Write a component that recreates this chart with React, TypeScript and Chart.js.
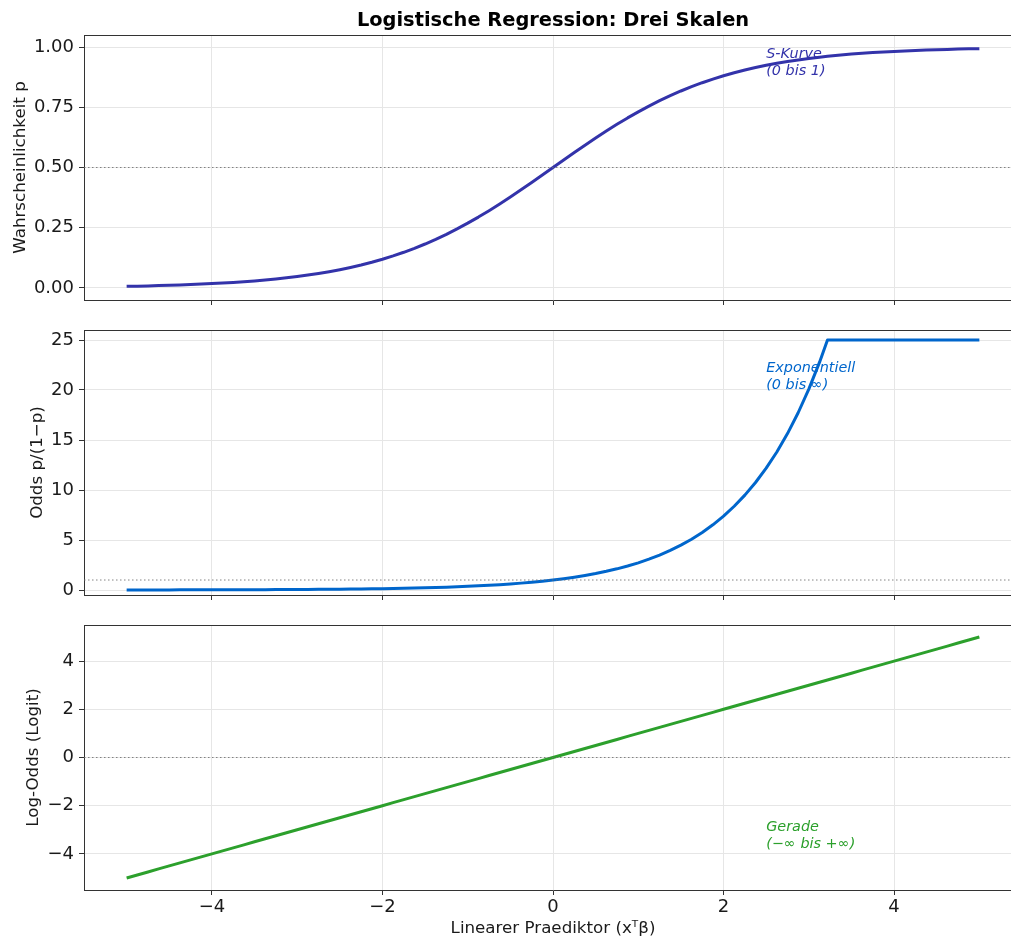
import React, { useEffect, useRef } from "react";
import { Chart, registerables } from "chart.js";

Chart.register(...registerables);

// ---------- data ----------
const xValues = [
  -5, -4.875, -4.75, -4.625, -4.5, -4.375, -4.25, -4.125, -4, -3.875, -3.75, -3.625, -3.5, -3.375,
  -3.25, -3.125, -3, -2.875, -2.75, -2.625, -2.5, -2.375, -2.25, -2.125, -2, -1.875, -1.75, -1.625,
  -1.5, -1.375, -1.25, -1.125, -1, -0.875, -0.75, -0.625, -0.5, -0.375, -0.25, -0.125, 0, 0.125,
  0.25, 0.375, 0.5, 0.625, 0.75, 0.875, 1, 1.125, 1.25, 1.375, 1.5, 1.625, 1.75, 1.875, 2, 2.125,
  2.25, 2.375, 2.5, 2.625, 2.75, 2.875, 3, 3.125, 3.219, 3.25, 3.375, 3.5, 3.625, 3.75, 3.875, 4,
  4.125, 4.25, 4.375, 4.5, 4.625, 4.75, 4.875, 5,
];
const probability = [
  0.00669, 0.00758, 0.00858, 0.00971, 0.01099, 0.01243, 0.01406, 0.01591, 0.01799, 0.02033, 0.02298,
  0.02596, 0.02931, 0.03309, 0.03733, 0.04209, 0.04743, 0.0534, 0.06009, 0.06755, 0.07586, 0.0851,
  0.09535, 0.10669, 0.1192, 0.13296, 0.14805, 0.16452, 0.18243, 0.20181, 0.2227, 0.24508, 0.26894,
  0.29421, 0.32082, 0.34865, 0.37754, 0.40734, 0.43782, 0.46879, 0.5, 0.53121, 0.56218, 0.59266,
  0.62246, 0.65135, 0.67918, 0.70579, 0.73106, 0.75492, 0.7773, 0.79819, 0.81757, 0.83548, 0.85195,
  0.86704, 0.8808, 0.89331, 0.90465, 0.9149, 0.92414, 0.93245, 0.93991, 0.9466, 0.95257, 0.95791,
  0.96154, 0.96267, 0.96691, 0.97069, 0.97404, 0.97702, 0.97967, 0.98201, 0.98409, 0.98594, 0.98757,
  0.98901, 0.99029, 0.99142, 0.99242, 0.99331,
];
const odds = [
  0.00674, 0.00764, 0.00865, 0.0098, 0.01111, 0.01259, 0.01426, 0.01616, 0.01832, 0.02075, 0.02352,
  0.02665, 0.0302, 0.03422, 0.03877, 0.04394, 0.04979, 0.05642, 0.06393, 0.07244, 0.08208, 0.09301,
  0.1054, 0.11943, 0.13534, 0.15336, 0.17377, 0.19691, 0.22313, 0.25284, 0.28651, 0.32465, 0.36788,
  0.41686, 0.47237, 0.53526, 0.60653, 0.68729, 0.7788, 0.8825, 1, 1.13315, 1.28403, 1.45499, 1.64872,
  1.86825, 2.117, 2.39888, 2.71828, 3.08022, 3.49034, 3.95508, 4.48169, 5.07842, 5.7546, 6.52082,
  7.38906, 8.3729, 9.48774, 10.75101, 12.18249, 13.80457, 15.64263, 17.72542, 20.08554, 22.7599, 25,
  25, 25, 25, 25, 25, 25, 25, 25, 25, 25, 25, 25, 25, 25, 25,
];
const logOdds = [
  -5, -4.875, -4.75, -4.625, -4.5, -4.375, -4.25, -4.125, -4, -3.875, -3.75, -3.625, -3.5, -3.375,
  -3.25, -3.125, -3, -2.875, -2.75, -2.625, -2.5, -2.375, -2.25, -2.125, -2, -1.875, -1.75, -1.625,
  -1.5, -1.375, -1.25, -1.125, -1, -0.875, -0.75, -0.625, -0.5, -0.375, -0.25, -0.125, 0, 0.125,
  0.25, 0.375, 0.5, 0.625, 0.75, 0.875, 1, 1.125, 1.25, 1.375, 1.5, 1.625, 1.75, 1.875, 2, 2.125,
  2.25, 2.375, 2.5, 2.625, 2.75, 2.875, 3, 3.125, 3.219, 3.25, 3.375, 3.5, 3.625, 3.75, 3.875, 4,
  4.125, 4.25, 4.375, 4.5, 4.625, 4.75, 4.875, 5,
];

const xTicks = [-4, -2, 0, 2, 4];
const probTicks = [0, 0.25, 0.5, 0.75, 1];
const oddsTicks = [0, 5, 10, 15, 20, 25];
const logitTicks = [-4, -2, 0, 2, 4];

const xLimits = [-5.5, 5.5];
const probLimits = [-0.05, 1.05];
const oddsLimits = [-0.5, 26];
const logitLimits = [-5.5, 5.5];
const referenceLevels = [0.5, 1, 0];

const titleText = "Logistische Regression: Drei Skalen";
const xLabel = "Linearer Praediktor (xᵀβ)";
const yLabels = ["Wahrscheinlichkeit p", "Odds p/(1−p)", "Log-Odds (Logit)"];
const annotationLines = [
  ["S-Kurve", "(0 bis 1)"],
  ["Exponentiell", "(0 bis ∞)"],
  ["Gerade", "(−∞ bis +∞)"],
];
const annotationX = [2.5, 2.5, 2.5];
const annotationY = [0.934, 21.3, -3.26];

const lineColors = ["#3333AA", "#0066CC", "#2CA02C"];

// ---------- styling ----------
const FONT = "'DejaVu Sans', 'Noto Sans', sans-serif";
const SPINE = "#333333";
const GRID = "#e6e6e6";
const TEXT = "#1a1a1a";

const fmtMinus = (v: number, digits?: number) => {
  const s = digits !== undefined ? Math.abs(v).toFixed(digits) : String(Math.abs(v));
  return v < 0 ? "−" + s : s;
};

type Panel = {
  top: number;
  height: number;
  padTop: number;
  xAxisHeight: number;
  showX: boolean;
  yTicks: number[];
  yLimits: number[];
  yDigits?: number;
  series: number[];
  titlePad: number;
  showTitle: boolean;
};

const panels: Panel[] = [
  { top: 0, height: 315, padTop: 35, xAxisHeight: 15, showX: false, yTicks: probTicks, yLimits: probLimits, yDigits: 2, series: probability, titlePad: 10.5, showTitle: true },
  { top: 315, height: 295, padTop: 15, xAxisHeight: 15, showX: false, yTicks: oddsTicks, yLimits: oddsLimits, series: odds, titlePad: 27.5, showTitle: false },
  { top: 610, height: 331, padTop: 15, xAxisHeight: 51, showX: true, yTicks: logitTicks, yLimits: logitLimits, series: logOdds, titlePad: 24, showTitle: false },
];

const CANVAS_W = 1030;

function makeChart(canvas: HTMLCanvasElement, idx: number) {
  const p = panels[idx];
  const color = lineColors[idx];
  const framePlugin = {
    id: "frame" + idx,
    afterDatasetsDraw(chart: any) {
      const { ctx, scales } = chart;
      const ax = scales.x.getPixelForValue(annotationX[idx]);
      const ay = scales.y.getPixelForValue(annotationY[idx]);
      ctx.save();
      ctx.font = `italic 14.4px ${FONT}`;
      ctx.fillStyle = color;
      ctx.textAlign = "left";
      ctx.textBaseline = "middle";
      const lines = annotationLines[idx];
      const lh = 16.7;
      lines.forEach((t, i) => {
        ctx.fillText(t, ax, ay + (i - (lines.length - 1) / 2) * lh);
      });
      ctx.restore();
    },
    afterDraw(chart: any) {
      const { ctx, chartArea } = chart;
      ctx.save();
      ctx.strokeStyle = SPINE;
      ctx.lineWidth = 1;
      ctx.beginPath();
      ctx.moveTo(chartArea.left, Math.round(chartArea.top) + 0.5);
      ctx.lineTo(chartArea.right, Math.round(chartArea.top) + 0.5);
      ctx.moveTo(Math.round(chartArea.right) + 0.5, chartArea.top);
      ctx.lineTo(Math.round(chartArea.right) + 0.5, chartArea.bottom);
      ctx.stroke();
      if (p.showTitle) {
        ctx.font = `bold 19.4px ${FONT}`;
        ctx.fillStyle = "#000";
        ctx.textAlign = "center";
        ctx.textBaseline = "middle";
        ctx.fillText(titleText, (chartArea.left + chartArea.right) / 2, 21);
      }
      ctx.restore();
    },
  };

  const resetPadding = (scale: any) => {
    scale.paddingTop = 0;
    scale.paddingBottom = 0;
    scale.paddingLeft = 0;
    scale.paddingRight = 0;
  };

  return new Chart(canvas, {
    type: "line",
    data: {
      datasets: [
        {
          data: xLimits.map((x) => ({ x, y: referenceLevels[idx] })),
          borderColor: "rgba(110,110,110,0.85)",
          borderWidth: 1,
          borderDash: [1.5, 2.5],
          pointRadius: 0,
          fill: false,
        },
        {
          data: xValues.map((x, i) => ({ x, y: p.series[i] })),
          borderColor: color,
          borderWidth: 3,
          pointRadius: 0,
          tension: 0,
          fill: false,
          borderJoinStyle: "round",
          borderCapStyle: "butt",
        },
      ],
    },
    options: {
      responsive: false,
      animation: false,
      events: [],
      layout: { padding: { top: p.padTop, left: 0, right: 8, bottom: 0 } },
      plugins: { legend: { display: false }, tooltip: { enabled: false }, title: { display: false } },
      scales: {
        x: {
          type: "linear",
          min: xLimits[0],
          max: xLimits[1],
          afterBuildTicks: (scale: any) => {
            scale.ticks = xTicks.map((v) => ({ value: v }));
          },
          afterFit: (scale: any) => {
            scale.height = p.xAxisHeight;
            resetPadding(scale);
          },
          grid: {
            color: GRID,
            lineWidth: 1,
            tickColor: SPINE,
            tickLength: 5,
            tickWidth: 1,
            drawTicks: true,
          },
          border: { display: true, color: SPINE, width: 1 },
          ticks: {
            display: p.showX,
            autoSkip: false,
            maxRotation: 0,
            padding: 2,
            color: TEXT,
            font: { family: FONT, size: 18 },
            callback: (v: any) => fmtMinus(Number(v)),
          },
          title: {
            display: p.showX,
            text: xLabel,
            color: TEXT,
            font: { family: FONT, size: 16.7 },
            padding: { top: 0, bottom: 2 },
          },
        },
        y: {
          type: "linear",
          min: p.yLimits[0],
          max: p.yLimits[1],
          afterBuildTicks: (scale: any) => {
            scale.ticks = p.yTicks.map((v) => ({ value: v }));
          },
          afterFit: (scale: any) => {
            scale.width = 84;
            resetPadding(scale);
          },
          grid: {
            color: GRID,
            lineWidth: 1,
            tickColor: SPINE,
            tickLength: 5,
            tickWidth: 1,
          },
          border: { display: true, color: SPINE, width: 1 },
          ticks: {
            autoSkip: false,
            padding: 5,
            color: TEXT,
            font: { family: FONT, size: 18 },
            callback: (v: any) => fmtMinus(Number(v), p.yDigits),
          },
          title: {
            display: true,
            text: yLabels[idx],
            color: TEXT,
            font: { family: FONT, size: 16.7 },
            padding: { top: p.titlePad, bottom: 0 },
          },
        },
      },
    },
    plugins: [framePlugin],
  } as any);
}

export default function App() {
  const refs = [useRef<HTMLCanvasElement>(null), useRef<HTMLCanvasElement>(null), useRef<HTMLCanvasElement>(null)];
  useEffect(() => {
    const charts = refs.map((r, i) => makeChart(r.current as HTMLCanvasElement, i));
    return () => charts.forEach((c) => c.destroy());
  }, []);
  return (
    <div
      style={{
        position: "absolute",
        left: 0,
        top: 0,
        width: 1011,
        height: 941,
        overflow: "hidden",
        background: "#fff",
      }}
    >
      {panels.map((p, i) => (
        <canvas
          key={i}
          ref={refs[i]}
          width={CANVAS_W}
          height={p.height}
          style={{ position: "absolute", left: 0, top: p.top, width: CANVAS_W, height: p.height, display: "block" }}
        />
      ))}
    </div>
  );
}
